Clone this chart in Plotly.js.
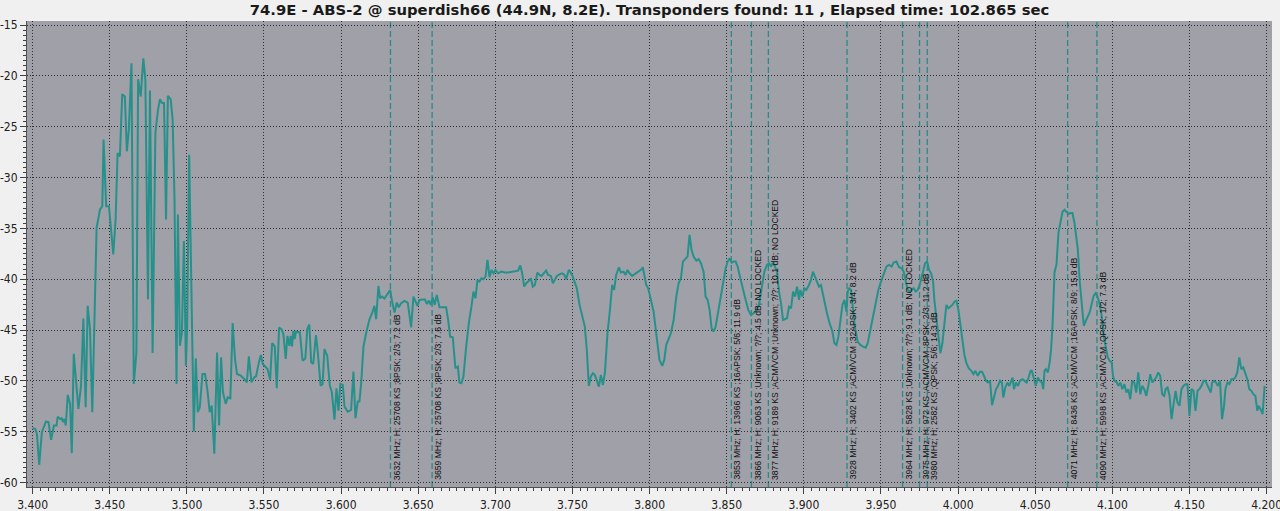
<!DOCTYPE html>
<html><head><meta charset="utf-8">
<script src="https://cdn.plot.ly/plotly-3.0.1.min.js"></script>
<style>html,body{margin:0;padding:0;background:#F0F0F0;overflow:hidden;} #chart{width:1280px;height:511px;}</style>
</head><body><div id="chart"></div>
<script>
const chartTitle = "74.9E - ABS-2 @ superdish66 (44.9N, 8.2E). Transponders found: 11 , Elapsed time: 102.865 sec";

const freqGHz = [
3.4000,3.4017,3.4028,3.4043,3.4060,3.4086,3.4103,3.4120,3.4138,3.4155,3.4163,3.4178,3.4189,3.4198,3.4206,3.4215,3.4228,3.4243,3.4254,3.4267,
3.4297,3.4314,3.4329,3.4344,3.4357,3.4372,3.4387,3.4404,3.4415,3.4437,3.4452,3.4460,3.4477,3.4495,3.4523,3.4538,3.4551,3.4566,3.4581,3.4598,
3.4611,3.4624,3.4641,3.4656,3.4673,3.4684,3.4701,3.4718,3.4731,3.4748,3.4761,3.4778,3.4796,3.4813,3.4826,3.4839,3.4852,3.4865,3.4877,3.4895,
3.4908,3.4920,3.4933,3.4942,3.4955,3.4968,3.4981,3.4994,3.5002,3.5015,3.5028,3.5045,3.5058,3.5071,3.5084,3.5101,3.5118,3.5135,3.5148,3.5161,
3.5178,3.5196,3.5209,3.5222,3.5234,3.5252,3.5265,3.5282,3.5297,3.5312,3.5325,3.5350,3.5372,3.5389,3.5402,3.5419,3.5437,3.5449,3.5467,3.5480,
3.5492,3.5505,3.5523,3.5540,3.5553,3.5570,3.5583,3.5598,3.5613,3.5626,3.5641,3.5652,3.5665,3.5673,3.5682,3.5690,3.5699,3.5707,3.5720,3.5733,
3.5750,3.5768,3.5781,3.5794,3.5806,3.5819,3.5837,3.5849,3.5867,3.5880,3.5892,3.5910,3.5927,3.5940,3.5957,3.5970,3.5983,3.5995,
3.6011,3.6022,3.6043,3.6065,3.6080,3.6093,3.6108,3.6119,3.6130,3.6145,3.6162,3.6184,3.6201,3.6216,3.6227,3.6242,3.6253,3.6266,3.6281,3.6296,
3.6309,3.6318,3.6331,3.6346,3.6361,3.6374,3.6389,3.6411,3.6432,3.6447,3.6454,3.6469,3.6482,3.6495,3.6508,3.6525,3.6543,3.6556,3.6569,3.6581,
3.6594,3.6607,3.6620,3.6638,3.6659,3.6681,3.6694,3.6707,3.6724,3.6741,3.6757,3.6767,3.6780,3.6793,3.6811,3.6828,3.6845,3.6858,3.6871,3.6884,
3.6897,3.6910,3.6923,3.6936,3.6949,3.6962,3.6975,3.6988,3.7001,3.7018,3.7040,3.7061,3.7083,3.7105,3.7126,3.7148,3.7161,3.7174,3.7187,3.7200,
3.7213,3.7230,3.7243,3.7256,3.7273,3.7286,3.7299,3.7312,3.7329,3.7342,3.7360,3.7373,3.7386,3.7399,3.7416,3.7433,3.7448,3.7459,3.7476,3.7489,
3.7502,3.7515,3.7528,3.7546,3.7563,3.7580,3.7593,3.7606,3.7619,3.7632,3.7645,3.7658,3.7671,3.7684,3.7697,3.7710,3.7727,3.7744,3.7757,3.7770,
3.7783,3.7801,3.7814,3.7831,3.7844,3.7857,3.7870,3.7887,3.7904,3.7922,3.7935,3.7948,3.7956,3.7965,3.7978,3.7991,3.8008,3.8026,3.8043,3.8056,3.8064,
3.8082,3.8095,3.8108,3.8123,3.8138,3.8156,3.8173,3.8188,3.8203,3.8216,3.8231,3.8246,3.8259,3.8272,3.8285,3.8303,3.8318,3.8333,3.8350,3.8363,
3.8376,3.8389,3.8402,3.8415,3.8428,3.8441,3.8458,3.8476,3.8493,3.8506,3.8519,3.8532,3.8545,3.8558,3.8571,3.8588,3.8605,3.8623,3.8640,3.8657,
3.8674,3.8692,3.8709,3.8727,3.8744,3.8761,3.8774,3.8787,3.8800,3.8813,3.8826,3.8839,3.8852,3.8865,3.8878,3.8891,3.8904,3.8917,3.8930,3.8943,
3.8956,3.8969,3.8977,3.8990,3.9003,3.9016,3.9033,3.9046,3.9059,3.9072,3.9085,3.9098,3.9111,3.9124,3.9137,3.9150,3.9167,3.9185,3.9198,3.9211,
3.9224,3.9237,3.9250,3.9263,3.9276,3.9284,3.9295,3.9306,3.9319,3.9332,3.9349,3.9366,3.9384,3.9401,3.9414,3.9431,3.9448,3.9466,3.9483,3.9500,
3.9518,3.9535,3.9552,3.9569,3.9582,3.9600,3.9617,3.9634,3.9647,3.9660,3.9673,3.9686,3.9699,3.9712,3.9725,3.9738,3.9751,3.9768,3.9786,3.9799,
3.9812,3.9825,3.9838,3.9846,3.9859,3.9872,3.9885,3.9898,3.9911,3.9924,3.9937,3.9950,3.9963,3.9976,3.9989,4.0002,4.0015,4.0028,4.0041,4.0054,4.0069,
4.0086,4.0099,4.0112,4.0127,4.0142,4.0155,4.0168,4.0181,4.0194,4.0207,4.0220,4.0233,4.0246,4.0259,4.0272,4.0284,4.0293,4.0306,4.0319,4.0332,
4.0345,4.0353,4.0362,4.0375,4.0388,4.0401,4.0418,4.0431,4.0444,4.0457,4.0470,4.0478,4.0491,4.0504,4.0517,4.0530,4.0543,4.0552,4.0560,4.0569,
4.0582,4.0595,4.0603,4.0612,4.0625,4.0638,4.0651,4.0664,4.0677,4.0690,4.0703,4.0716,4.0728,4.0741,4.0754,4.0763,4.0776,4.0789,4.0802,4.0815,
4.0828,4.0841,4.0853,4.0866,4.0879,4.0892,4.0905,4.0918,4.0931,4.0944,4.0957,4.0970,4.0983,4.0996,4.1004,4.1013,4.1026,4.1039,4.1052,4.1065,
4.1078,4.1091,4.1103,4.1116,4.1129,4.1142,4.1155,4.1168,4.1181,4.1194,4.1207,4.1220,4.1233,4.1246,4.1259,4.1272,4.1284,4.1297,4.1310,4.1323,
4.1336,4.1345,4.1358,4.1371,4.1384,4.1397,4.1410,4.1422,4.1435,4.1448,4.1461,4.1474,4.1487,4.1500,4.1513,4.1526,4.1539,4.1552,4.1565,4.1578,
4.1591,4.1603,4.1616,4.1625,4.1638,4.1647,4.1660,4.1672,4.1685,4.1698,4.1711,4.1724,4.1733,4.1746,4.1759,4.1772,4.1785,4.1797,4.1810,4.1823,
4.1836,4.1849,4.1862,4.1875,4.1888,4.1901,4.1914,4.1927,4.1940,4.1948,4.1961,4.1974,4.1987
];

const levelDb = [
-54.64,-54.71,-55.20,-58.24,-55.03,-53.99,-54.05,-55.78,-54.38,-54.38,-53.50,-53.73,-53.66,-54.05,-53.73,-54.38,-51.37,-52.25,-57.09,-47.32,
-52.75,-50.46,-43.86,-52.58,-42.61,-44.90,-53.07,-40.00,-34.93,-33.14,-32.81,-26.27,-32.81,-32.81,-37.55,-34.12,-27.58,-27.91,-21.80,-22.03,
-27.42,-25.29,-18.76,-50.29,-47.19,-20.33,-22.03,-18.27,-20.39,-41.96,-21.44,-47.25,-25.62,-23.33,-22.29,-22.68,-22.68,-34.12,-21.96,-22.29,
-24.31,-32.16,-50.29,-33.63,-46.54,-45.23,-36.24,-48.50,-44.58,-27.75,-39.35,-54.97,-47.78,-53.07,-52.58,-49.31,-49.31,-51.11,-53.07,-52.42,
-57.16,-47.19,-54.38,-47.68,-51.11,-52.25,-51.60,-51.70,-44.31,-47.84,-49.31,-49.48,-49.80,-50.13,-47.58,-50.13,-49.64,-49.54,-48.17,-47.45,
-48.33,-48.50,-48.82,-49.87,-46.27,-46.60,-50.72,-44.74,-44.90,-45.39,-47.84,-45.56,-46.54,-45.56,-46.60,-45.07,-45.88,-45.16,-45.23,-45.23,
-48.01,-47.78,-44.90,-44.44,-48.17,-48.33,-45.49,-47.19,-50.46,-50.29,-46.86,-47.52,-50.46,-51.11,-53.79,-50.72,-52.91,-50.29,
-50.39,-52.52,-53.01,-52.84,-49.08,-53.66,-52.02,-52.02,-50.22,-46.62,-45.31,-43.93,-43.34,-42.62,-43.93,-40.66,-41.87,-41.70,-41.90,-41.54,
-41.21,-41.05,-42.20,-43.28,-42.29,-42.75,-42.36,-42.13,-42.29,-43.67,-44.72,-41.70,-42.20,-42.62,-42.03,-42.03,-41.97,-42.42,-42.10,-42.52,
-41.77,-42.52,-41.54,-42.75,-42.75,-42.75,-44.00,-45.64,-45.70,-48.75,-48.58,-50.16,-50.22,-49.57,-46.62,-44.32,-42.69,-41.21,-41.87,-40.07,
-40.23,-39.90,-40.00,-39.74,-38.10,-39.80,-39.08,-39.41,-39.08,-39.41,-39.25,-39.34,-39.34,-39.28,-39.18,-39.15,-38.62,-39.41,-40.72,-40.39,
-40.23,-39.90,-40.72,-40.56,-39.34,-39.57,-39.67,-39.41,-39.15,-39.57,-39.67,-40.39,-40.00,-39.67,-39.51,-39.41,-39.57,-40.00,-39.08,-39.34,
-39.74,-40.23,-40.88,-42.52,-43.51,-44.65,-46.95,-50.48,-49.57,-49.24,-49.40,-49.90,-50.55,-49.40,-50.39,-49.24,-45.31,-42.85,-40.56,-41.05,
-39.57,-38.82,-39.34,-39.25,-39.57,-39.08,-39.41,-39.67,-39.51,-39.34,-39.15,-39.02,-38.82,-39.41,-40.56,-40.88,-42.03,-43.18,-45.31,-47.11,-47.93,
-48.52,-47.93,-46.45,-45.96,-45.31,-44.00,-41.70,-40.39,-39.90,-38.26,-38.03,-37.77,-35.64,-37.12,-37.77,-38.17,-38.03,-38.43,-39.25,-41.70,
-42.03,-43.01,-44.82,-45.14,-44.65,-43.51,-42.03,-40.39,-38.92,-38.26,-37.94,-38.36,-38.26,-38.26,-38.75,-39.90,-41.05,-42.03,-43.01,-43.51,
-43.34,-43.08,-42.52,-40.72,-39.25,-38.59,-38.43,-38.75,-38.36,-38.75,-39.25,-41.21,-42.36,-44.00,-43.93,-43.83,-42.69,-42.85,-41.21,-41.70,
-40.72,-42.03,-41.05,-41.70,-40.88,-41.05,-40.56,-40.07,-39.25,-39.74,-40.07,-40.72,-40.56,-41.54,-42.52,-43.34,-44.32,-45.14,-46.29,-46.45,
-45.64,-43.83,-42.52,-42.03,-43.18,-41.21,-40.88,-41.05,-42.85,-44.82,-46.13,-46.45,-46.62,-46.72,-46.29,-44.98,-43.67,-42.20,-41.05,-40.23,
-39.34,-38.75,-38.59,-38.75,-38.36,-38.26,-38.82,-38.92,-39.25,-40.23,-41.05,-41.21,-41.05,-40.88,-41.21,-41.05,-40.56,-39.57,-38.43,-38.26,
-39.08,-39.41,-40.23,-42.03,-43.67,-45.47,-47.27,-46.29,-44.00,-42.52,-42.85,-42.69,-42.52,-42.20,-42.10,-43.01,-44.65,-46.13,-47.44,-48.26,-48.75,
-49.00,-49.33,-49.00,-49.49,-49.10,-49.10,-49.49,-49.98,-50.15,-49.98,-52.38,-51.46,-50.80,-50.48,-49.98,-50.15,-51.62,-50.64,-50.15,-50.48,
-49.98,-49.66,-50.80,-50.15,-50.48,-49.98,-49.82,-49.98,-50.15,-49.66,-49.00,-49.00,-49.82,-50.48,-49.66,-49.98,-50.15,-50.80,-49.00,-48.84,
-49.16,-48.02,-46.87,-44.57,-39.33,-38.51,-35.39,-34.41,-33.36,-33.16,-33.36,-33.59,-33.49,-33.49,-34.41,-35.39,-37.03,-40.31,-42.61,-44.57,
-44.08,-43.59,-43.26,-42.44,-41.62,-41.36,-41.79,-42.44,-43.59,-45.56,-46.87,-47.69,-48.02,-48.18,-49.49,-49.98,-50.08,-50.48,-50.15,-50.80,
-50.31,-51.13,-50.80,-51.79,-49.98,-50.15,-51.13,-49.16,-51.30,-50.48,-50.80,-51.46,-50.48,-49.33,-50.15,-49.82,-49.66,-49.16,-49.49,-51.30,
-51.46,-50.80,-50.64,-51.46,-53.75,-52.28,-50.97,-52.11,-52.44,-50.80,-50.48,-50.31,-50.31,-53.43,-50.80,-50.97,-52.93,-50.97,-50.80,-50.48,
-49.98,-49.98,-50.48,-50.80,-51.13,-50.15,-49.98,-50.15,-50.48,-49.98,-53.75,-52.44,-50.80,-50.15,-50.31,-49.82,-49.82,-49.66,-49.16,-47.69,
-48.84,-48.67,-49.16,-49.82,-50.80,-50.97,-51.30,-51.46,-52.93,-52.44,-52.77,-53.26,-50.48
];

const tpFreqMHz = [3632, 3659, 3853, 3866, 3877, 3928, 3964, 3975, 3980, 4071, 4090];
const tpLabels = [
"3632 MHz; H; 25708 KS ;8PSK; 2/3; 7.2 dB",
"3659 MHz; H; 25708 KS ;8PSK; 2/3; 7.6 dB",
"3853 MHz; H; 13966 KS ;16APSK; 5/6; 11.9 dB",
"3866 MHz; H; 9063 KS ;Unknown; ?/?; 4.5 dB; NO LOCKED",
"3877 MHz; H; 9189 KS ;ACM/VCM ;Unknown; ?/?; 10.1 dB; NO LOCKED",
"3928 MHz; H; 3402 KS ;ACM/VCM ;32APSK; 3/4; 8.2 dB",
"3964 MHz; H; 5828 KS ;Unknown; ?/?; 9.1 dB; NO LOCKED",
"3975 MHz; H; 972 KS ;ACM/VCM ;8PSK; 2/3; 11.2 dB",
"3980 MHz; H; 2582 KS ;QPSK; 5/6; 14.3 dB",
"4071 MHz; H; 8436 KS ;ACM/VCM ;16APSK; 8/9; 15.8 dB",
"4090 MHz; H; 5998 KS ;ACM/VCM ;QPSK; 1/2; 7.3 dB"
];

const yTickVals = [-15, -20, -25, -30, -35, -40, -45, -50, -55, -60];
const yTickText = ["-15", "-20", "-25", "-30", "-35", "-40", "-45", "-50", "-55", "-60"];

const teal = '#26918B';
const dashTeal = '#2A8A88';

const shapes = tpFreqMHz.map(f => ({
  type: 'line', xref: 'x', yref: 'paper',
  x0: f / 1000, x1: f / 1000, y0: 0, y1: 1,
  line: {color: dashTeal, width: 1.3, dash: '6px,3px'},
  layer: 'between'
}));

const annotations = tpFreqMHz.map((f, i) => ({
  x: f / 1000, y: -60, xref: 'x', yref: 'y',
  text: tpLabels[i], textangle: -90, showarrow: false,
  xanchor: 'left', yanchor: 'bottom', xshift: -1, yshift: 1,
  font: {family: 'Liberation Sans, Arial, sans-serif', size: 8.6, color: '#101010'}
}));

const trace = {
  x: freqGHz, y: levelDb, type: 'scatter', mode: 'lines',
  line: {color: teal, width: 2}, hoverinfo: 'skip'
};

const tickFont = {family: 'DejaVu Sans Condensed, DejaVu Sans, sans-serif', size: 12, color: '#202020'};

const layout = {
  width: 1280, height: 511,
  paper_bgcolor: '#F0F0F0', plot_bgcolor: '#A0A0A8',
  margin: {l: 27, r: 8, t: 21, b: 24, pad: 0},
  showlegend: false,
  title: {
    text: chartTitle, x: 0.5, xanchor: 'center', xref: 'paper',
    y: 1 - 10 / 511, yanchor: 'middle', yref: 'container',
    font: {family: 'DejaVu Sans, sans-serif', size: 14.8, color: '#1a1a1a', weight: 'bold'}
  },
  xaxis: {
    range: [3.39637, 4.2035], tickmode: 'linear', tick0: 3.4, dtick: 0.05,
    tickformat: '.3f', ticks: 'outside', ticklen: 6, tickcolor: '#404040', tickwidth: 1,
    ticklabeloverflow: 'allow', ticklabelstandoff: 1,
    showline: true, linecolor: '#505050', linewidth: 1, zeroline: false,
    showgrid: true, gridcolor: '#303030', griddash: '1px,2px', gridwidth: 1,
    tickfont: tickFont,
    minor: {dtick: 0.005, tick0: 3.4, ticks: 'outside', ticklen: 3, tickcolor: '#404040', showgrid: false}
  },
  yaxis: {
    range: [-60.423, -14.607], tickmode: 'array', tickvals: yTickVals, ticktext: yTickText,
    ticks: 'outside', ticklen: 6, tickcolor: '#404040', tickwidth: 1,
    ticklabeloverflow: 'allow',
    showline: true, linecolor: '#505050', linewidth: 1, zeroline: false,
    showgrid: true, gridcolor: '#303030', griddash: '1px,2px', gridwidth: 1,
    tickfont: tickFont,
    minor: {dtick: 0.5, tick0: -60, ticks: 'outside', ticklen: 3, tickcolor: '#404040', showgrid: false}
  },
  shapes: shapes,
  annotations: annotations
};

Plotly.newPlot('chart', [trace], layout, {staticPlot: true, displayModeBar: false});
</script>
</body></html>
